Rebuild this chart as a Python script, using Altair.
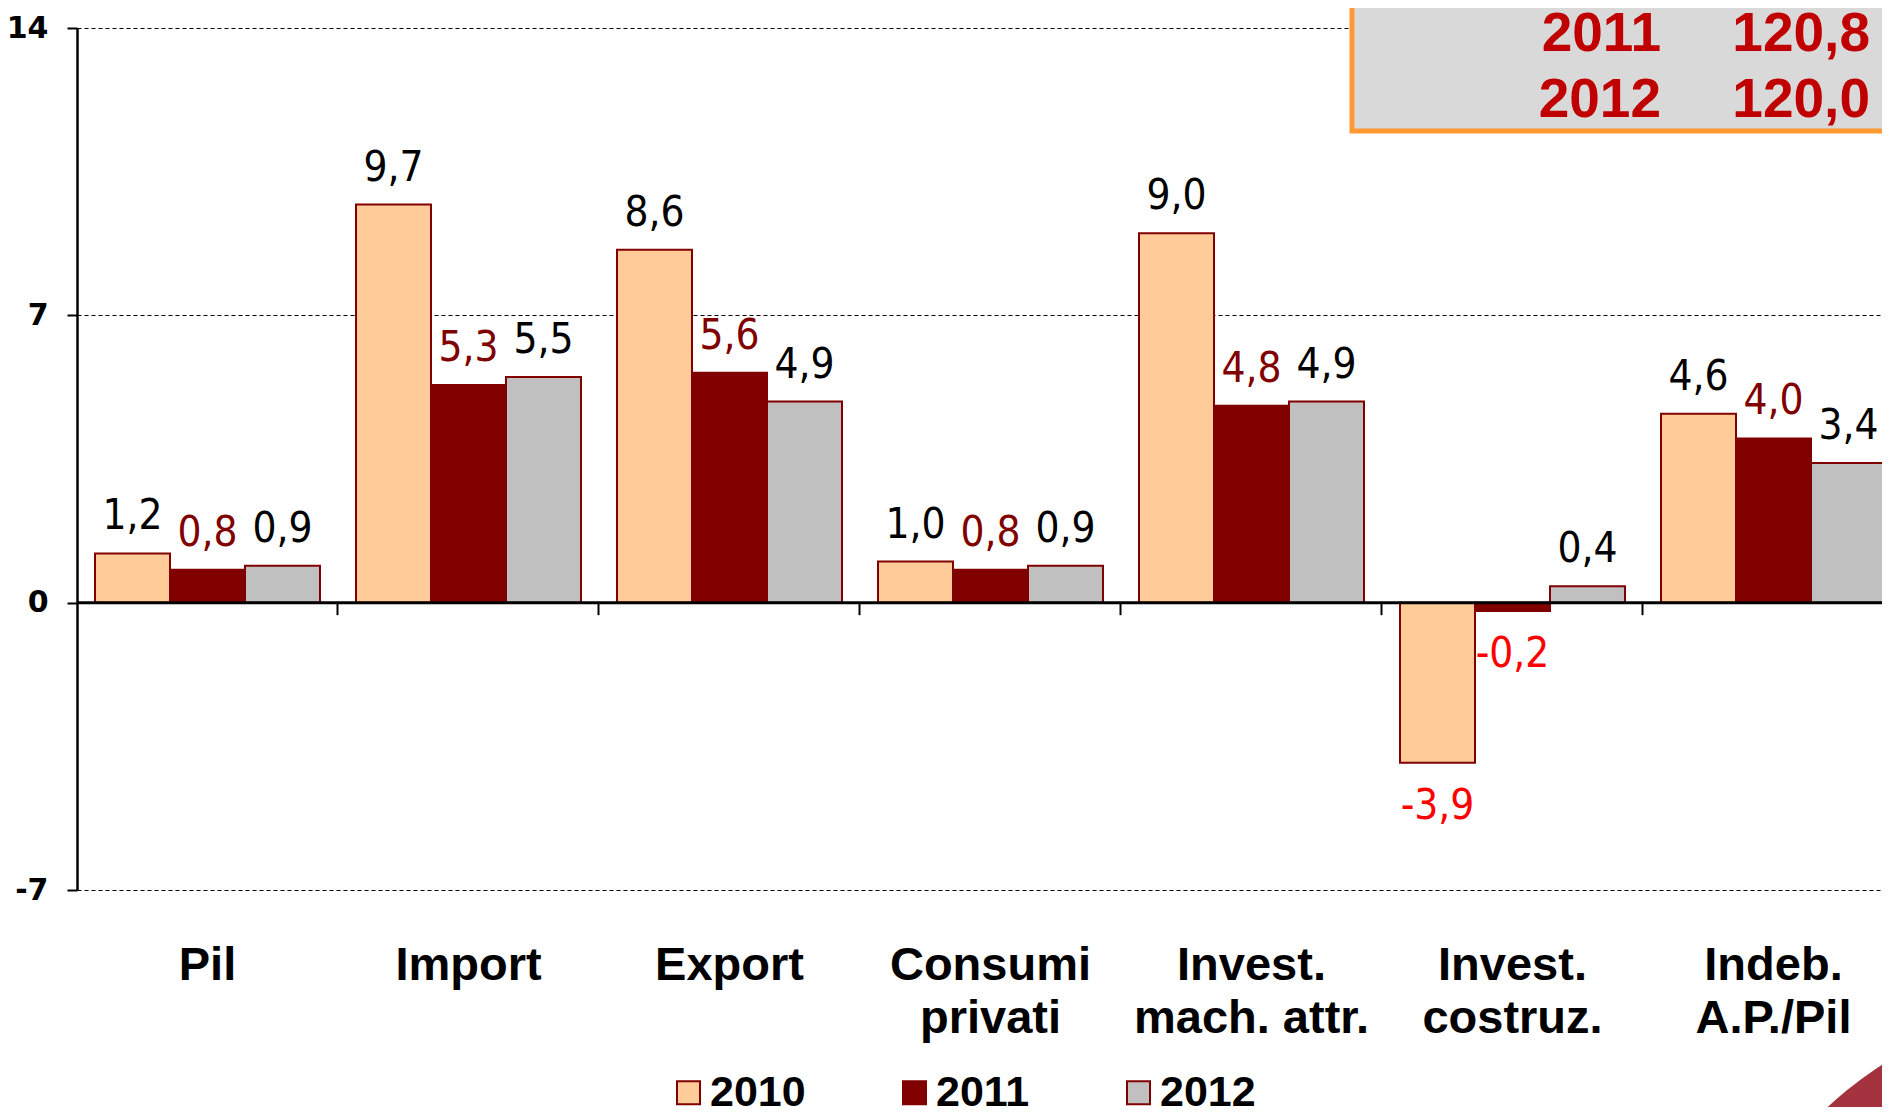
import altair as alt
import pandas as pd

categories = ["Pil", "Import", "Export", "Consumi privati",
              "Invest. mach. attr.", "Invest. costruz.", "Indeb. A.P./Pil"]
category_labels = ["Pil", "Import", "Export", "Consumi\nprivati",
                   "Invest.\nmach. attr.", "Invest.\ncostruz.", "Indeb.\nA.P./Pil"]
years = ["2010", "2011", "2012"]
values_2010 = [1.2, 9.7, 8.6, 1.0, 9.0, -3.9, 4.6]
values_2011 = [0.8, 5.3, 5.6, 0.8, 4.8, -0.2, 4.0]
values_2012 = [0.9, 5.5, 4.9, 0.9, 4.9, 0.4, 3.4]
y_ticks = [-7, 0, 7, 14]
box_years = ["2011", "2012"]
box_values = ["120,8", "120,0"]

rows = []
for yr, vals in zip(years, [values_2010, values_2011, values_2012]):
    for c, v in zip(categories, vals):
        rows.append({"cat": c, "year": yr, "value": v,
                     "label": f"{v:.1f}".replace(".", ",")})
df = pd.DataFrame(rows)
cat_df = pd.DataFrame({"cat": categories, "label": category_labels})
one = pd.DataFrame({"k": [0]})

W, H = 1805, 862
NARROW = "Liberation Sans Narrow, DejaVu Sans Condensed, sans-serif"
BOLD = "Liberation Sans, Arial, sans-serif"

xscale = alt.Scale(range=[0, 1827], paddingInner=0.138, paddingOuter=0.069)
x_enc = alt.X("cat:N", sort=categories, scale=xscale,
              axis=alt.Axis(title=None, labels=False, domain=False, grid=False,
                            ticks=True, tickColor="black", tickWidth=2, tickSize=12,
                            bandPosition=1.08, offset=-287.33))
xo_enc = alt.XOffset("year:N", sort=years,
                     scale=alt.Scale(paddingInner=0, paddingOuter=0))
y_enc = alt.Y("value:Q", scale=alt.Scale(domain=[-7, 14], nice=False),
              axis=alt.Axis(values=y_ticks, title=None, domainColor="black",
                            domainWidth=2.5, tickColor="black", tickWidth=2,
                            tickSize=10, labelFont="DejaVu Sans", labelFontSize=30,
                            labelFontWeight="bold", labelColor="black",
                            labelExpr="datum.value + ''",
                            labelPadding=19, grid=True, gridColor="black",
                            gridDash=[4, 3], gridWidth=1.1, gridOpacity=1))

base = alt.Chart(one)

swoosh = alt.Chart(one).mark_arc(radius=400, theta=0, theta2=6.2832,
                                 color="#A5333F", opacity=1).encode(
    x=alt.value(2023), y=alt.value(1372))

bars = alt.Chart(df).mark_bar(stroke="#800000", strokeWidth=2).encode(
    x=x_enc, xOffset=xo_enc, y=y_enc, y2=alt.datum(0),
    fill=alt.Fill("year:N", sort=years,
                  scale=alt.Scale(domain=years, range=["#FFCC99", "#800000", "#C0C0C0"]),
                  legend=alt.Legend(orient="none", legendX=590, legendY=1043,
                                    direction="horizontal", title=None,
                                    symbolType="square", symbolSize=529,
                                    symbolStrokeColor="#800000", symbolStrokeWidth=2,
                                    labelFont=BOLD, labelFontSize=43,
                                    labelFontWeight="bold", labelColor="black",
                                    labelOffset=0, columnPadding=87, padding=0,
                                    labelLimit=0)),
)

zero = alt.Chart(one).mark_rule(color="black", strokeWidth=3).encode(y=alt.datum(0))

pos = alt.Chart(df).transform_filter("datum.value >= 0").mark_text(
    baseline="alphabetic", dy=-24, font=NARROW, fontSize=42).encode(
    x=alt.X("cat:N", sort=categories), xOffset=alt.XOffset("year:N", sort=years),
    y="value:Q", text="label:N",
    color=alt.Color("year:N", scale=alt.Scale(domain=years, range=["black", "#800000", "black"]),
                    legend=None),
)

neg = alt.Chart(df).transform_filter("datum.value < 0").mark_text(
    baseline="top", dy=23, font=NARROW, fontSize=42, color="#FF0000").encode(
    x=alt.X("cat:N", sort=categories), xOffset=alt.XOffset("year:N", sort=years),
    y="value:Q", text="label:N",
)

cat_text = alt.Chart(cat_df).mark_text(
    font=BOLD, fontWeight="bold", fontSize=47, lineBreak="\n",
    baseline="alphabetic", dy=90, lineHeight=53, color="black").encode(
    x=alt.X("cat:N", sort=categories), y=alt.datum(-7), text="label:N",
)

box = alt.Chart(one).mark_rect(fill="#D9D9D9", stroke="#FF9933", strokeWidth=5).encode(
    x=alt.value(1275), x2=alt.value(1900), y=alt.value(-40), y2=alt.value(103))

box_y = alt.Chart(one).mark_text(
    font=BOLD, fontWeight="bold", fontSize=55, color="#C00000", align="right",
    baseline="alphabetic", lineBreak="\n", lineHeight=66,
    text="\n".join(box_years)).encode(x=alt.value(1584), y=alt.value(23))

box_v = alt.Chart(one).mark_text(
    font=BOLD, fontWeight="bold", fontSize=55, color="#C00000", align="right",
    baseline="alphabetic", lineBreak="\n", lineHeight=66,
    text="\n".join(box_values)).encode(x=alt.value(1793), y=alt.value(23))

chart = alt.layer(swoosh, bars, zero, pos, neg, cat_text, box, box_y, box_v).resolve_scale(
    color="independent", fill="independent"
).properties(
    width=W, height=H,
    autosize=alt.AutoSizeParams(type="none"),
    padding={"left": 69, "top": 20, "right": 0, "bottom": 217},
    background="white",
).configure_view(strokeWidth=0)

chart.save("out.html", embed_options={"renderer": "svg", "actions": False})
